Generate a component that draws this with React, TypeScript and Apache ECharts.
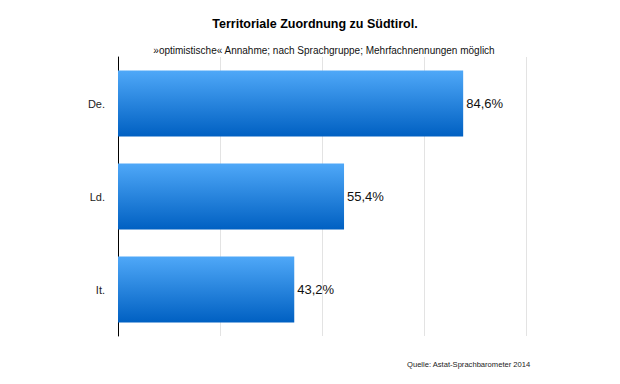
import React, { useEffect, useRef } from "react";
import * as echarts from "echarts";

const categories = ["De.", "Ld.", "It."];
const values = [84.6, 55.4, 43.2];
const titleText = "Territoriale Zuordnung zu Südtirol.";
const subtitleText = "»optimistische« Annahme; nach Sprachgruppe; Mehrfachnennungen möglich";
const sourceText = "Quelle: Astat-Sprachbarometer 2014";

export default function App() {
  const ref = useRef<HTMLDivElement>(null);
  useEffect(() => {
    if (!ref.current) return;
    const chart = echarts.init(ref.current, undefined, { renderer: "svg" });
    const font = "'Liberation Sans', Arial, Helvetica, sans-serif";
    chart.setOption({
      animation: false,
      backgroundColor: "#ffffff",
      textStyle: { fontFamily: font },
      title: [
        {
          text: titleText,
          left: 310,
          top: 12,
          textAlign: "center",
          textStyle: { fontSize: 12.5, fontWeight: "bold", color: "#000", fontFamily: font },
        },
        {
          text: subtitleText,
          left: 319,
          top: 40,
          textAlign: "center",
          textStyle: { fontSize: 10, fontWeight: "normal", color: "#111", fontFamily: font },
        },
        {
          text: sourceText,
          left: 402,
          top: 355,
          textStyle: { fontSize: 7.6, fontWeight: "normal", color: "#222", fontFamily: font },
        },
      ],
      grid: { left: 118, right: 94, top: 57, height: 279, containLabel: false },
      xAxis: {
        type: "value",
        min: 0,
        max: 100,
        interval: 25,
        axisLabel: { show: false },
        axisLine: { show: false },
        axisTick: { show: false },
        splitLine: { show: true, lineStyle: { color: "#e3e3e3", width: 1 } },
      },
      yAxis: {
        type: "category",
        data: categories,
        inverse: true,
        axisLine: { show: true, lineStyle: { color: "#000", width: 1 } },
        axisTick: { show: false },
        axisLabel: { color: "#222", fontSize: 11, margin: 13, fontFamily: font },
        splitLine: { show: false },
      },
      series: [
        {
          type: "bar",
          data: values,
          barWidth: "71%",
          itemStyle: {
            color: new echarts.graphic.LinearGradient(0, 0, 0, 1, [
              { offset: 0, color: "#4fa8f8" },
              { offset: 1, color: "#0060c2" },
            ]),
          },
          label: {
            show: true,
            position: "right",
            distance: 3,
            fontSize: 13,
            color: "#111",
            fontFamily: font,
            formatter: (p: any) => p.value.toFixed(1).replace(".", ",") + "%",
          },
        },
      ],
    });
    return () => chart.dispose();
  }, []);
  return <div ref={ref} style={{ width: 620, height: 384, position: "absolute", left: 0, top: 0 }} />;
}
